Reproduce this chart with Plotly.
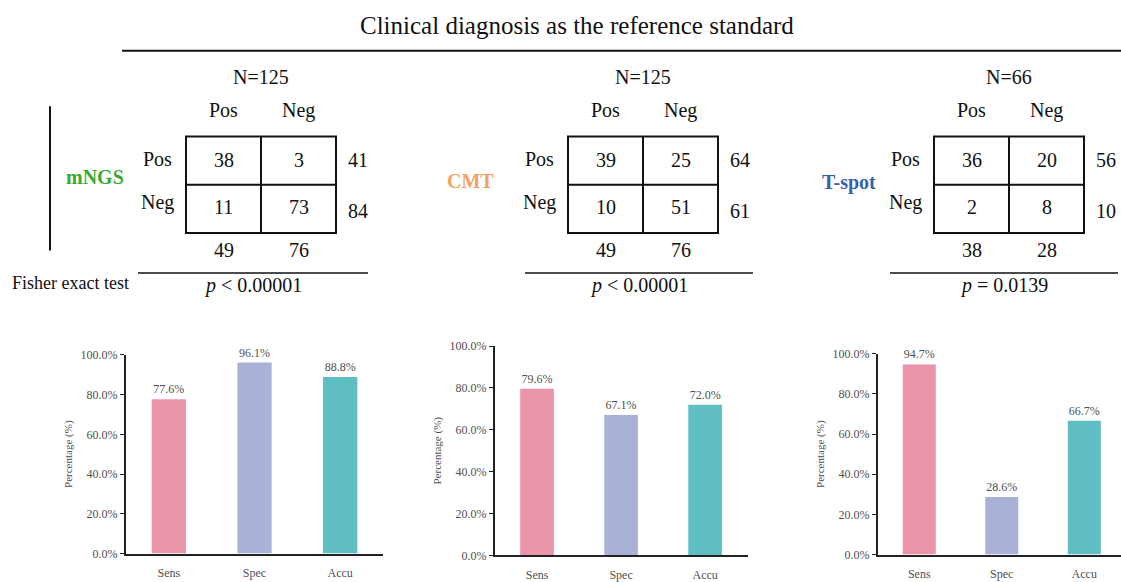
import plotly.graph_objects as go

W, H = 1121, 582

# ---- data ----
methods = ["mNGS", "CMT", "T-spot"]
method_colors = ["#3BA935", "#F4A261", "#3560B0"]
n_labels = ["N=125", "N=125", "N=66"]
true_pos = [38, 39, 36]
false_pos = [3, 25, 20]
false_neg = [11, 10, 2]
true_neg = [73, 51, 8]
p_texts = ["<i>p</i> < 0.00001", "<i>p</i> < 0.00001", "<i>p</i> = 0.0139"]

metrics = ["Sens", "Spec", "Accu"]
mngs_pct = [77.6, 96.1, 88.8]
cmt_pct = [79.6, 67.1, 72.0]
tspot_pct = [94.7, 28.6, 66.7]
bar_colors = ["#E994A8", "#A9B1D6", "#5FBEC4"]
pct_ticks = [0, 20, 40, 60, 80, 100]
pct_tick_text = ["0.0%", "20.0%", "40.0%", "60.0%", "80.0%", "100.0%"]

SERIF = "Liberation Serif, Times New Roman, serif"
TEXT_SHIFT = 3  # annotation boxes include descender space; lift glyphs to their centre


def px(x):
    return x / W


def py(y):
    return 1 - y / H


fig = go.Figure()
shapes = []
annotations = []


def label(x, y, text, size=20, color="#111111", **kw):
    annotations.append(dict(
        x=px(x), y=py(y - TEXT_SHIFT), xref="paper", yref="paper", text=text,
        showarrow=False, xanchor=kw.pop("xanchor", "center"), yanchor="middle",
        font=dict(family=SERIF, size=size, color=color), **kw))


def line(x0, y0, x1, y1, width=2, color="#111111"):
    shapes.append(dict(type="line", xref="paper", yref="paper",
                       x0=px(x0), y0=py(y0), x1=px(x1), y1=py(y1),
                       line=dict(color=color, width=width)))


# ---- header ----
label(577, 22, "Clinical diagnosis as the reference standard", size=25)
line(122, 45, W, 45, width=2)
line(50, 102, 50, 250, width=2)
label(70, 286, "Fisher exact test", size=18)

# ---- contingency tables ----
box_left = [186, 568, 934]
method_x = [95, 470, 849]
method_y = [177, 182, 183]
line_span = [(138, 368), (525, 753), (890, 1118)]
box_top, cell_w, cell_h = 133, 75, 49.5

for i in range(3):
    L = box_left[i]
    R = L + 2 * cell_w
    B = box_top + 2 * cell_h
    M = L + cell_w
    C = box_top + cell_h
    shapes.append(dict(type="rect", xref="paper", yref="paper",
                       x0=px(L), y0=py(box_top), x1=px(R), y1=py(B),
                       line=dict(color="#111111", width=2)))
    line(M, box_top, M, B)
    line(L, C, R, C)

    c1 = L + cell_w / 2
    c2 = M + cell_w / 2
    label(M, 75, n_labels[i])
    label(c1, 109, "Pos")
    label(c2, 109, "Neg")
    label(L - 29, 159, "Pos")
    label(L - 29, 204, "Neg")
    label(c1, 160, str(true_pos[i]))
    label(c2, 160, str(false_pos[i]))
    label(c1, 208, str(false_neg[i]))
    label(c2, 208, str(true_neg[i]))
    label(R + 22, 160, str(true_pos[i] + false_pos[i]))
    label(R + 22, 212, str(false_neg[i] + true_neg[i]))
    label(c1, 252, str(true_pos[i] + false_neg[i]))
    label(c2, 252, str(false_pos[i] + true_neg[i]))
    label(method_x[i], method_y[i],
          "<b>%s</b>" % methods[i], size=20, color=method_colors[i])

    x0, x1 = line_span[i]
    line(x0, 273, x1, 273, width=1.5)
    label((x0 + x1) / 2, 289, p_texts[i])

# ---- bar charts ----
pcts = [mngs_pct, cmt_pct, tspot_pct]
x_domains = [(126, 383), (495, 748), (878, W)]
y_domains = [(357, 561), (348, 563), (356, 562)]
x_ranges = [[-0.5, 2.5], [-0.5, 2.51], [-0.5, 2.445]]

axis_font = dict(family=SERIF, size=12, color="#505050")
for i in range(3):
    suffix = "" if i == 0 else str(i + 1)
    fig.add_trace(go.Bar(
        x=metrics, y=pcts[i], width=0.4,
        marker=dict(color=bar_colors, line=dict(width=0)),
        text=["%.1f%%" % v for v in pcts[i]], textposition="outside",
        textfont=axis_font, cliponaxis=False, showlegend=False,
        xaxis="x" + suffix, yaxis="y" + suffix,
    ))
    xd = x_domains[i]
    yd = y_domains[i]
    fig.update_layout(**{
        "xaxis" + suffix: dict(
            domain=[px(xd[0]), px(xd[1])], range=x_ranges[i],
            anchor="y" + suffix, showline=True, linecolor="#222222",
            linewidth=2, ticks="", tickfont=axis_font, showgrid=False,
            zeroline=False, fixedrange=True, ticklabelstandoff=7),
        "yaxis" + suffix: dict(
            domain=[py(yd[1]), py(yd[0])], range=[0, 100],
            anchor="x" + suffix, showline=True, linecolor="#222222",
            linewidth=2, ticks="outside", ticklen=4, tickcolor="#222222",
            tickmode="array", tickvals=pct_ticks, ticktext=pct_tick_text,
            tickfont=axis_font, showgrid=False, zeroline=False,
            title=dict(text="Percentage (%)",
                       font=dict(family=SERIF, size=11, color="#505050"),
                       standoff=6)),
    })

fig.update_layout(
    width=W, height=H, margin=dict(l=0, r=0, t=0, b=0),
    paper_bgcolor="white", plot_bgcolor="white",
    shapes=shapes, annotations=annotations, bargap=0.6,
)

fig.write_html("out.html")
